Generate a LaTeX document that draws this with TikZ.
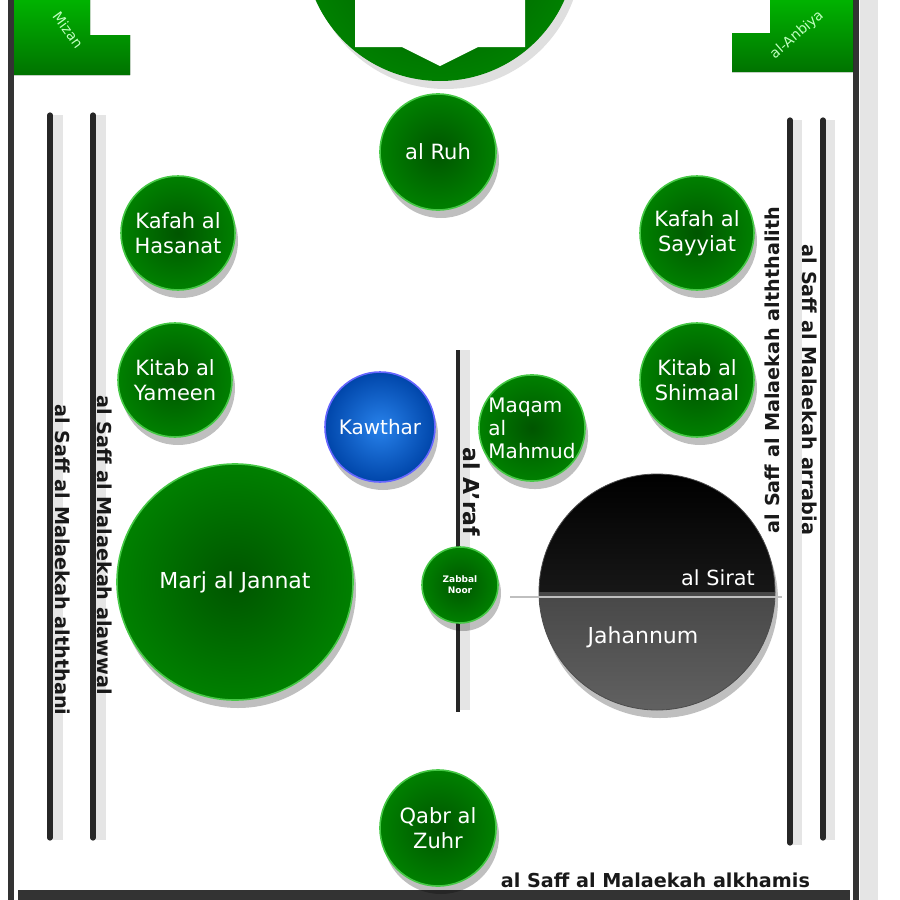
\documentclass[tikz,border=0pt]{standalone}
\usepackage{fontspec}
\setmainfont{DejaVu Sans}
\usetikzlibrary{shadows}
\definecolor{rim}{RGB}{70,200,70}
\definecolor{deepgreen}{RGB}{0,85,0}
\definecolor{midgreen}{RGB}{0,128,0}

\begin{document}
\begin{tikzpicture}[x=0.5pt, y=-0.5pt,
    ball/.style={circle, draw=rim, line width=0.8pt, inner color=deepgreen, outer color=midgreen,
        text=white, align=center, inner sep=0pt, font=\fontsize{10.5}{12.5}\selectfont,
        drop shadow={shadow xshift=1.5pt, shadow yshift=-4pt, opacity=0.25, fill=black}},
    saff/.style={line width=2.6pt, black!85, line cap=round},
    saffglow/.style={line width=5pt, black!10},
    sideLabel/.style={font=\bfseries\fontsize{9.6}{11}\selectfont, text=black!90}]
    \useasboundingbox (0,0) rectangle (900,900);
    \clip (0,0) rectangle (900,900);

    \fill[black!10] (860,0) rectangle (878,900);
    \draw[line width=3pt, black!80] (11,0) -- (11,900);
    \draw[line width=3pt, black!80] (856,0) -- (856,900);
    \fill[black!80] (18,890) rectangle (850,900);

    \fill[top color=green!70!black, bottom color=green!45!black]
        (14,0) -- (90,0) -- (90,35) -- (130,35) -- (130,75) -- (14,75) -- cycle;
    \node[rotate=-54, text=green!25!white, font=\fontsize{7}{8}\selectfont] (mizan) at (68,30) {Mizan};
    \fill[top color=green!70!black, bottom color=green!45!black]
        (770,0) -- (853,0) -- (853,72) -- (732,72) -- (732,33) -- (770,33) -- cycle;
    \node[rotate=41, text=green!25!white, font=\fontsize{7}{8}\selectfont] (anbiya) at (797,35) {al-Anbiya};

    \shade[inner color=deepgreen, outer color=midgreen, drop shadow={shadow yshift=-4pt, opacity=0.25}]
        (440,-55) circle [radius=68pt];
    \fill[white] (355,-10) -- (525,-10) -- (525,47) -- (478,47) -- (440,66) -- (402,47) -- (355,47) -- cycle;

    \draw[saffglow] (58,115) -- (58,840);
    \draw[saffglow] (101,115) -- (101,840);
    \draw[saffglow] (797,120) -- (797,845);
    \draw[saffglow] (830,120) -- (830,840);
    \draw[saffglow] (465,350) -- (465,710);
    \draw[saff] (50,115) -- (50,838);
    \draw[saff] (93,115) -- (93,838);
    \draw[saff] (790,120) -- (790,843);
    \draw[saff] (823,120) -- (823,838);

    \coordinate (araf-n) at (458,350);
    \coordinate (araf-s) at (458,712);
    \draw[line width=2.4pt, black!85] (araf-n) -- (araf-s);

    \node[ball, minimum size=58pt] (ruh) at (438,152) {al Ruh};
    \node[ball, minimum size=57pt] (hasanat) at (178,233) {Kafah al\\Hasanat};
    \node[ball, minimum size=57pt] (sayyiat) at (697,233) {Kafah al\\Sayyiat};
    \node[ball, minimum size=57pt] (yameen) at (175,380) {Kitab al\\Yameen};
    \node[ball, minimum size=57pt] (shimaal) at (697,380) {Kitab al\\Shimaal};
    \node[ball, minimum size=55pt, draw=blue!60, inner color={rgb,255:red,40;green,130;blue,235},
        outer color={rgb,255:red,0;green,70;blue,170}, font=\fontsize{10}{12}\selectfont] (kawthar) at (380,427) {Kawthar};
    \node[ball, minimum size=53pt, align=left, font=\fontsize{10}{11.5}\selectfont] (maqam) at (532,428) {Maqam\\al\\Mahmud};
    \node[ball, minimum size=118pt, font=\fontsize{11}{13}\selectfont] (jannat) at (235,582) {Marj al Jannat};
    \node[ball, minimum size=38pt, font=\bfseries\fontsize{4.5}{5.5}\selectfont] (noor) at (460,585) {Zabbal\\Noor};
    \node[ball, minimum size=58pt] (zuhr) at (438,828) {Qabr al\\Zuhr};

    \node[circle, minimum size=118pt, inner sep=0pt, draw=black!70,
        drop shadow={shadow xshift=1.5pt, shadow yshift=-4pt, opacity=0.25, fill=black},
        path picture={
            \shade[top color=black, bottom color=black!82] (path picture bounding box.north west) rectangle (path picture bounding box.east);
            \shade[top color=black!72, bottom color=black!62] (path picture bounding box.west) rectangle (path picture bounding box.south east);
        }] (jahannum) at (657,592) {};
    \coordinate (sirat-w) at (510,597);
    \coordinate (sirat-e) at (782,597);
    \draw[line width=1.2pt, black!25] (sirat-w) -- (sirat-e);
    \node[text=white, font=\fontsize{10.4}{12}\selectfont] (sirat) at (718,578) {al Sirat};
    \node[text=white, font=\fontsize{11}{13}\selectfont] (jahannumtext) at (643,637) {Jahannum};

    \node[sideLabel, rotate=-90] (saff1) at (105,545) {al Saff al Malaekah alawwal};
    \node[sideLabel, rotate=-90] (saff2) at (63,560) {al Saff al Malaekah alththani};
    \node[sideLabel, rotate=90] (saff3) at (772,370) {al Saff al Malaekah alththalith};
    \node[sideLabel, rotate=-90] (saff4) at (810,390) {al Saff al Malaekah arrabia};
    \node[sideLabel, anchor=east] (saff5) at (817,880) {al Saff al Malaekah alkhamis};
    \node[sideLabel, rotate=-90, font=\bfseries\fontsize{11}{12}\selectfont] (araf) at (472,492) {al A'raf};
\end{tikzpicture}
\end{document}
